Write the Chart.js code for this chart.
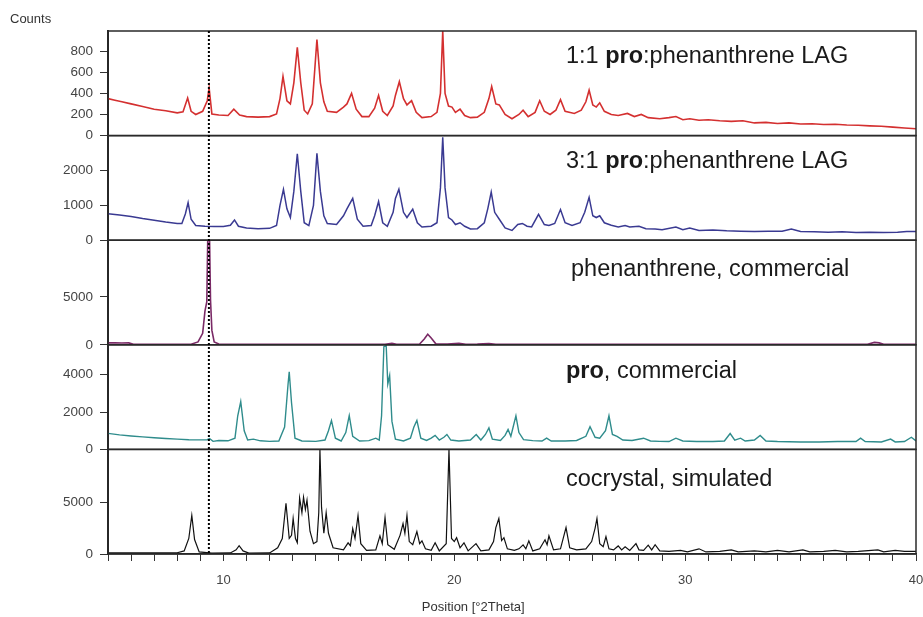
<!DOCTYPE html>
<html><head><meta charset="utf-8">
<script src="https://cdn.jsdelivr.net/npm/chart.js@4.4.1/dist/chart.umd.min.js"></script>
<style>html,body{margin:0;padding:0;background:#fff}canvas{display:block}</style>
</head><body>
<canvas id="c" width="923" height="617"></canvas>
<script>
// ---- data (2θ in degrees, intensity in counts) ----
const positionRange = [5, 40];
const xTickLabels = [10, 20, 30, 40];
const markerPosition = 9.37;
const yAxisTitle = "Counts";
const xAxisTitle = "Position [°2Theta]";

// panels listed top to bottom
const panelLabels = [
  [["1:1 ", false], ["pro", true], [":phenanthrene LAG", false]],
  [["3:1 ", false], ["pro", true], [":phenanthrene LAG", false]],
  [["phenanthrene, commercial", false]],
  [["pro", true], [", commercial", false]],
  [["cocrystal, simulated", false]]
];
const panelMax = [990, 3000, 10900, 5600, 10100];
const panelTicks = [[0, 200, 400, 600, 800], [0, 1000, 2000], [0, 5000], [0, 2000, 4000], [0, 5000]];

const lag11 = [[5.0,350],[5.3,335],[5.6,320],[6.0,300],[6.5,275],[7.0,250],[7.5,235],[8.0,215],[8.25,225],[8.45,355],[8.6,230],[8.8,200],[9.1,230],[9.3,330],[9.38,450],[9.5,205],[9.8,195],[10.2,190],[10.45,250],[10.7,195],[11.0,180],[11.5,175],[12.0,180],[12.3,205],[12.45,350],[12.58,560],[12.75,330],[12.9,300],[13.05,500],[13.2,835],[13.35,500],[13.5,240],[13.65,205],[13.85,300],[14.05,910],[14.2,500],[14.35,320],[14.5,230],[14.9,220],[15.2,270],[15.35,300],[15.55,400],[15.75,250],[16.0,180],[16.3,180],[16.55,260],[16.72,380],[16.9,230],[17.1,190],[17.35,280],[17.45,380],[17.62,510],[17.8,350],[17.95,290],[18.15,330],[18.35,220],[18.6,170],[19.0,180],[19.25,220],[19.4,400],[19.5,990],[19.6,400],[19.75,280],[19.9,270],[20.05,220],[20.25,250],[20.45,190],[20.7,170],[21.0,175],[21.3,220],[21.5,350],[21.62,465],[21.8,300],[21.95,290],[22.2,200],[22.5,160],[22.8,200],[22.98,240],[23.2,180],[23.5,220],[23.7,330],[23.9,230],[24.15,200],[24.4,240],[24.6,340],[24.8,230],[25.2,210],[25.5,240],[25.7,320],[25.84,430],[26.0,290],[26.15,270],[26.3,310],[26.5,230],[26.8,200],[27.1,190],[27.5,210],[27.8,180],[28.1,200],[28.4,170],[28.9,160],[29.3,170],[29.6,180],[29.9,150],[30.2,160],[30.6,145],[31.0,150],[31.5,140],[32.0,135],[32.5,140],[33.0,120],[33.5,125],[34.0,115],[34.5,120],[35.0,110],[35.5,112],[36.0,105],[36.5,108],[37.0,100],[37.5,98],[38.0,92],[38.5,88],[39.0,80],[39.5,72],[40.0,65]];

const lag31 = [[5.0,760],[5.5,720],[6.0,680],[6.5,620],[7.0,570],[7.5,520],[8.0,480],[8.2,480],[8.35,750],[8.47,1080],[8.6,600],[8.8,420],[9.2,400],[9.6,390],[10.0,390],[10.3,430],[10.48,580],[10.65,400],[11.0,350],[11.5,330],[12.0,340],[12.3,420],[12.45,1000],[12.6,1460],[12.75,900],[12.9,650],[13.05,1400],[13.2,2480],[13.35,1400],[13.5,500],[13.7,420],[13.9,1000],[14.05,2490],[14.2,1400],[14.35,700],[14.5,480],[14.9,450],[15.2,700],[15.35,900],[15.6,1200],[15.8,600],[16.05,400],[16.4,420],[16.55,700],[16.72,1110],[16.9,500],[17.1,400],[17.35,800],[17.45,1200],[17.6,1460],[17.8,800],[17.95,650],[18.2,890],[18.4,500],[18.6,380],[19.0,400],[19.25,500],[19.4,1500],[19.5,2950],[19.6,1500],[19.75,650],[19.9,580],[20.05,450],[20.25,500],[20.45,400],[20.7,320],[21.0,330],[21.3,500],[21.45,900],[21.6,1380],[21.75,800],[21.95,600],[22.2,350],[22.5,280],[22.75,450],[22.95,480],[23.15,400],[23.35,380],[23.65,740],[23.9,450],[24.1,420],[24.35,480],[24.6,880],[24.8,500],[25.1,420],[25.45,500],[25.65,800],[25.84,1230],[26.0,700],[26.15,650],[26.3,700],[26.5,500],[26.8,430],[27.1,380],[27.4,420],[27.6,380],[28.0,400],[28.3,330],[28.7,320],[29.0,300],[29.6,380],[29.9,300],[30.2,350],[30.6,280],[31.2,290],[31.8,270],[32.4,260],[33.0,250],[33.6,260],[34.2,260],[34.6,320],[35.0,250],[35.6,240],[36.2,230],[36.8,240],[37.4,220],[38.0,230],[38.6,220],[39.2,230],[39.6,250],[40.0,250]];

const phenanthrene = [[5.0,200],[5.3,220],[5.6,180],[5.9,200],[6.1,60],[6.5,50],[7.0,50],[8.0,50],[8.6,60],[8.9,300],[9.1,1200],[9.2,3500],[9.28,4500],[9.32,10900],[9.4,10900],[9.44,4700],[9.5,1500],[9.6,300],[9.8,80],[10.2,60],[11.0,50],[12.0,50],[13.0,40],[14.0,50],[15.0,40],[16.0,50],[17.0,60],[17.3,150],[17.5,60],[18.5,80],[18.7,600],[18.85,1100],[19.0,700],[19.2,100],[19.7,80],[20.2,150],[20.5,60],[21.0,80],[21.5,130],[21.8,60],[22.5,50],[25.0,40],[28.0,40],[30.0,40],[33.0,40],[37.0,40],[37.9,60],[38.2,250],[38.4,200],[38.6,50],[40.0,40]];

const proCommercial = [[5.0,860],[5.5,780],[6.0,720],[6.5,670],[7.0,620],[7.5,580],[8.0,550],[8.5,520],[9.0,510],[9.3,520],[9.4,580],[9.55,430],[9.8,480],[10.2,460],[10.5,600],[10.62,1800],[10.75,2560],[10.9,1000],[11.05,500],[11.3,550],[11.6,460],[12.0,430],[12.4,450],[12.65,1200],[12.8,3500],[12.85,4150],[12.95,2500],[13.1,600],[13.4,450],[14.0,430],[14.4,500],[14.55,1000],[14.68,1550],[14.85,600],[15.1,450],[15.3,900],[15.45,1810],[15.6,700],[15.9,450],[16.3,470],[16.6,600],[16.75,500],[16.85,1800],[16.95,5500],[17.05,5550],[17.12,3500],[17.2,3950],[17.3,1500],[17.45,550],[17.8,450],[18.1,600],[18.25,1200],[18.38,1550],[18.55,600],[18.8,480],[19.0,600],[19.17,750],[19.35,500],[19.55,650],[19.68,800],[19.85,500],[20.2,450],[20.7,500],[20.95,800],[21.15,500],[21.35,800],[21.5,1150],[21.65,550],[22.0,480],[22.2,750],[22.33,1070],[22.45,700],[22.55,1200],[22.67,1800],[22.8,900],[23.0,520],[23.4,470],[23.8,450],[24.0,600],[24.2,450],[24.8,450],[25.3,480],[25.7,700],[25.88,1220],[26.1,650],[26.3,600],[26.55,1000],[26.7,1800],[26.85,800],[27.05,700],[27.3,500],[27.7,480],[28.2,600],[28.5,450],[28.9,430],[29.3,420],[29.6,600],[29.9,450],[30.5,420],[31.2,420],[31.7,450],[31.95,850],[32.15,500],[32.4,600],[32.6,450],[33.0,500],[33.25,750],[33.5,450],[34.0,420],[35.0,400],[35.8,400],[36.6,420],[37.4,420],[37.6,600],[37.8,420],[38.5,400],[38.9,550],[39.1,400],[39.5,420],[39.8,650],[40.0,450]];

const cocrystal = [[5.0,100],[7.0,100],[8.0,120],[8.3,300],[8.5,1500],[8.63,3720],[8.75,1400],[8.95,200],[9.5,80],[10.3,100],[10.55,400],[10.68,800],[10.85,300],[11.1,80],[12.0,100],[12.35,600],[12.55,1500],[12.71,4900],[12.85,1500],[12.95,1800],[13.02,3430],[13.12,1500],[13.2,1100],[13.3,5400],[13.4,4000],[13.47,5490],[13.55,4300],[13.62,5200],[13.75,2200],[13.9,1000],[14.05,1200],[14.13,4000],[14.18,10100],[14.25,4500],[14.35,2000],[14.45,4000],[14.55,2000],[14.75,600],[15.2,400],[15.4,1080],[15.5,800],[15.6,2450],[15.7,1500],[15.83,3720],[15.95,1000],[16.2,350],[16.6,400],[16.78,1760],[16.88,1000],[17.0,3530],[17.12,900],[17.4,450],[17.65,1800],[17.78,2940],[17.86,2000],[17.95,3720],[18.05,1200],[18.2,900],[18.38,2160],[18.5,1000],[18.6,1270],[18.75,500],[19.0,350],[19.17,1080],[19.35,300],[19.65,1000],[19.77,10100],[19.88,1500],[20.0,1200],[20.1,1570],[20.25,600],[20.42,1080],[20.6,300],[20.94,1000],[21.15,300],[21.5,400],[21.7,1200],[21.8,2550],[21.93,3430],[22.05,1300],[22.15,1570],[22.3,500],[22.6,350],[22.8,500],[22.98,880],[23.1,500],[23.23,1270],[23.4,300],[23.7,500],[23.93,1370],[24.02,900],[24.1,1760],[24.3,400],[24.6,500],[24.84,2550],[25.0,600],[25.3,400],[25.7,500],[25.95,1200],[26.1,2500],[26.18,3430],[26.3,1000],[26.45,700],[26.57,1670],[26.7,500],[26.9,400],[27.1,780],[27.25,400],[27.4,700],[27.6,350],[27.87,1000],[28.0,400],[28.2,350],[28.4,850],[28.55,400],[28.7,900],[28.9,300],[29.3,250],[29.8,350],[30.1,200],[30.6,500],[30.9,200],[31.5,250],[32.0,400],[32.3,200],[33.0,300],[33.5,200],[34.0,350],[34.5,200],[35.1,400],[35.4,200],[36.0,250],[36.5,350],[37.0,200],[37.5,250],[38.35,400],[38.6,200],[39.1,350],[39.5,250],[40.0,250]];

const panelSeries = [lag11, lag31, phenanthrene, proCommercial, cocrystal];
const panelColors = ["#d43030", "#3a3a92", "#7a2a66", "#2f8c8c", "#111111"];
const panelLineWidths = [1.6, 1.5, 1.6, 1.4, 1.2];

// ---- chart ----
const FONT = '"Liberation Sans", Arial, sans-serif';
const panelIds = panelLabels.map((_, i) => "p" + i);

const scales = {
  x: {
    type: "linear", min: positionRange[0], max: positionRange[1],
    afterFit: s => { s.height = 63; s.paddingLeft = 0; s.paddingRight = 0; },
    ticks: {
      stepSize: 1, autoSkip: false, maxRotation: 0, padding: 12,
      color: "#444", font: { family: FONT, size: 13 },
      callback: v => xTickLabels.includes(v) ? String(v) : ""
    },
    grid: { display: true, drawOnChartArea: false, drawTicks: true, tickLength: 7, color: "#333" },
    border: { display: true, color: "#222", width: 1.5 }
  }
};
// define bottom panel first so the last defined sits on top of the stack
for (let i = panelIds.length - 1; i >= 0; i--) {
  scales[panelIds[i]] = {
    type: "linear", position: "left", stack: "panels", stackWeight: 1,
    min: 0, max: panelMax[i],
    afterFit: s => { s.width = 108; s.paddingTop = 0; s.paddingBottom = 0; },
    afterBuildTicks: s => { s.ticks = panelTicks[i].map(v => ({ value: v })); },
    ticks: {
      autoSkip: false, color: "#444", padding: 7, font: { family: FONT, size: 13.5 },
      callback: v => String(v)
    },
    grid: { display: true, drawOnChartArea: false, drawTicks: true, tickLength: 8, color: "#333" },
    border: { display: true, color: "#222", width: 2 }
  };
}

const datasets = panelSeries.map((series, i) => ({
  data: series.map(p => ({ x: p[0], y: p[1] })),
  yAxisID: panelIds[i],
  borderColor: panelColors[i],
  borderWidth: panelLineWidths[i],
  pointRadius: 0, tension: 0, fill: false
}));

const decor = {
  id: "decor",
  afterDraw(chart) {
    const ctx = chart.ctx, ca = chart.chartArea;
    ctx.save();
    // panel frames
    ctx.strokeStyle = "#2a2a2a"; ctx.lineWidth = 1.5;
    panelIds.forEach(id => {
      const s = chart.scales[id];
      ctx.strokeRect(ca.left, s.top, ca.right - ca.left, s.bottom - s.top);
    });
    // dotted marker line
    const xm = chart.scales.x.getPixelForValue(markerPosition);
    ctx.strokeStyle = "#000"; ctx.lineWidth = 2; ctx.setLineDash([2, 2]);
    ctx.beginPath(); ctx.moveTo(xm, ca.top); ctx.lineTo(xm, ca.bottom); ctx.stroke();
    ctx.setLineDash([]);
    // panel labels
    const baseOff = [32, 32, 36, 33, 37];
    const xOff = [458, 458, 463, 458, 458];
    ctx.fillStyle = "#1a1a1a"; ctx.textBaseline = "alphabetic"; ctx.textAlign = "left";
    panelLabels.forEach((segs, i) => {
      const s = chart.scales[panelIds[i]];
      let x = ca.left + xOff[i];
      const y = s.top + baseOff[i];
      segs.forEach(([t, b]) => {
        ctx.font = (b ? "bold " : "") + "23.5px " + FONT;
        ctx.fillText(t, x, y);
        x += ctx.measureText(t).width;
      });
    });
    // axis titles
    ctx.fillStyle = "#333"; ctx.font = "13px " + FONT; ctx.textBaseline = "middle";
    ctx.fillText(yAxisTitle, 10, 19);
    ctx.textAlign = "center";
    ctx.fillText(xAxisTitle, ca.left + (ca.right - ca.left) * 0.452, 607);
    ctx.restore();
  }
};

new Chart(document.getElementById("c"), {
  type: "line",
  data: { datasets },
  options: {
    responsive: false, animation: false,
    layout: { padding: { top: 31, right: 7, left: 0, bottom: 0 } },
    plugins: { legend: { display: false }, tooltip: { enabled: false }, title: { display: false } },
    scales
  },
  plugins: [decor]
});
</script>
</body></html>
